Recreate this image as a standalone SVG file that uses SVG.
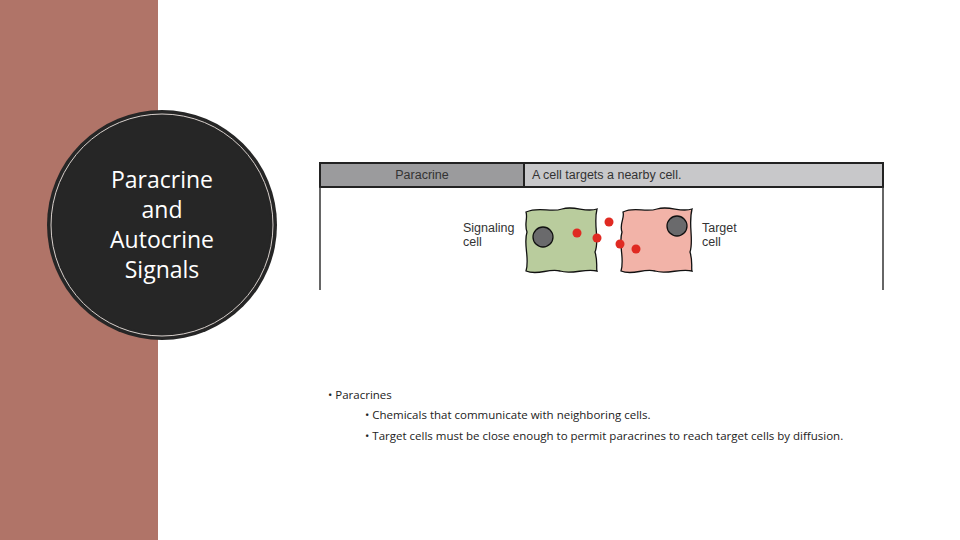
<svg xmlns="http://www.w3.org/2000/svg" width="960" height="540" viewBox="0 0 960 540">
<style>
.t{font-family:"Liberation Sans",Arial,sans-serif;font-size:12.5px;fill:#333}
.b{font-family:"Open Sans","Noto Sans",sans-serif;font-size:11.5px;fill:#222}
.h{font-family:"Open Sans","Noto Sans",sans-serif;font-size:23px;fill:#fff;text-anchor:middle}
</style>
<rect width="960" height="540" fill="#fff"/>
<rect x="0" y="0" width="158" height="540" fill="#b07468"/>
<g id="title">
<circle cx="162" cy="225" r="115" fill="#262626"/>
<circle cx="162" cy="225" r="111" fill="none" stroke="#d8d0cc" stroke-width="1"/>
<circle cx="162" cy="225" r="108.5" fill="#262626"/>
<text class="h" x="162" y="188">Paracrine</text>
<text class="h" x="162" y="218">and</text>
<text class="h" x="162" y="248">Autocrine</text>
<text class="h" x="162" y="278">Signals</text>
</g>
<g id="table">
<rect x="320" y="163" width="563" height="24" fill="#c8c8ca" stroke="#222" stroke-width="2"/>
<rect x="320" y="163" width="204" height="24" fill="#9b9b9d" stroke="#222" stroke-width="2"/>
<line x1="320" y1="187" x2="320" y2="290" stroke="#333" stroke-width="1.5"/>
<line x1="883" y1="187" x2="883" y2="290" stroke="#333" stroke-width="1.5"/>
<text class="t" x="422" y="179" text-anchor="middle">Paracrine</text>
<text class="t" x="532" y="179">A cell targets a nearby cell.</text>
</g>
<g id="signaling-cell">
<path d="M526,212 C540,206 550,213 562,209 C575,205 585,213 597,209 C593,225 600,240 595,252 C598,262 596,268 597,271 C585,268 572,275 560,271 C548,268 538,276 526,271 C530,258 523,245 527,232 C524,224 528,218 526,212 Z" fill="#b9cc9d" stroke="#111" stroke-width="1.3"/>
<circle cx="543" cy="237" r="10" fill="#6a6a6c" stroke="#111" stroke-width="1.3"/>
<text class="t" x="463" y="232">Signaling</text>
<text class="t" x="463" y="246">cell</text>
</g>
<g id="target-cell">
<path d="M623,212 C635,206 645,213 657,209 C670,205 680,213 692,209 C688,225 694,240 690,252 C693,262 691,268 692,271 C680,268 667,275 655,271 C643,268 633,276 621,271 C625,258 618,245 622,232 C619,224 625,218 623,212 Z" fill="#f2b3a8" stroke="#111" stroke-width="1.3"/>
<circle cx="677" cy="226" r="10" fill="#6a6a6c" stroke="#111" stroke-width="1.3"/>
<text class="t" x="702" y="232">Target</text>
<text class="t" x="702" y="246">cell</text>
</g>
<g id="molecules" fill="#e02a22">
<circle cx="577" cy="233" r="4.5"/>
<circle cx="597" cy="238" r="4.5"/>
<circle cx="609" cy="222" r="4.5"/>
<circle cx="620" cy="244" r="4.5"/>
<circle cx="636" cy="249" r="4.5"/>
</g>
<g id="bullets">
<text class="b" x="328" y="399">•   Paracrines</text>
<text class="b" x="365" y="419">•      Chemicals that communicate with neighboring cells.</text>
<text class="b" x="365" y="440">•   Target cells must be close enough to permit paracrines to reach target cells by diffusion.</text>
</g>
</svg>
